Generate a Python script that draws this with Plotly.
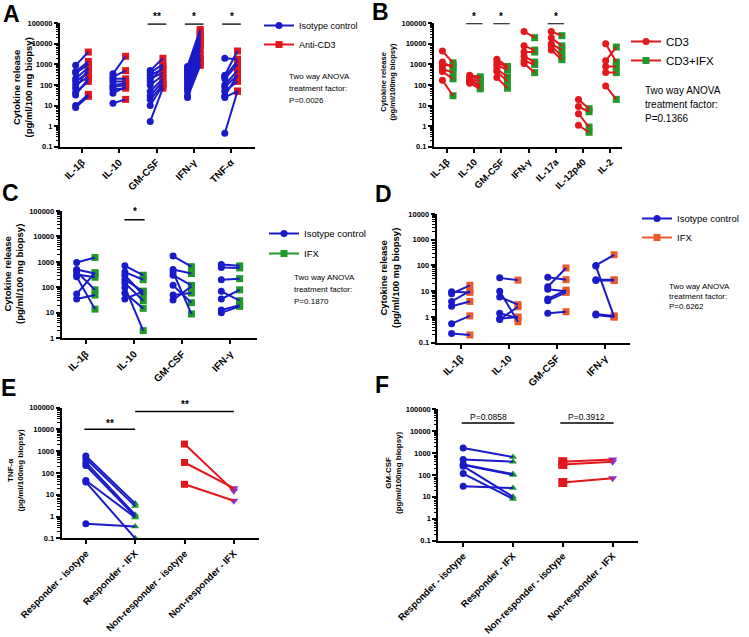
import plotly.graph_objects as go

W, H = 749, 637

# ---------------- DATA ----------------
A_categories = ['IL-1β', 'IL-10', 'GM-CSF', 'IFN-γ', 'TNF-α']
A_isotype = [
    [900, 450, 380, 200, 150, 100, 70, 45, 33, 10, 8],
    [350, 250, 200, 150, 100, 80, 60, 40, 13],
    [500, 400, 300, 200, 150, 100, 50, 30, 20, 10, 1.7],
    [800, 600, 500, 400, 300, 250, 200, 150, 100, 70, 50, 30, 25],
    [2000, 300, 250, 200, 100, 80, 50, 30, 25, 0.45],
]
A_antiCD3 = [
    [4000, 1400, 1000, 700, 400, 250, 600, 150, 200, 35, 28],
    [2500, 500, 200, 150, 120, 100, 70, 80, 20],
    [2000, 1000, 600, 400, 800, 300, 200, 150, 100, 100, 70],
    [50000, 40000, 30000, 20000, 15000, 10000, 8000, 5000, 3000, 2000, 1500, 1000, 900],
    [1800, 4500, 1500, 1000, 500, 300, 150, 300, 50, 50],
]
A_stars = {2: '**', 3: '*', 4: '*'}

B_categories = ['IL-1β', 'IL-10', 'GM-CSF', 'IFN-γ', 'IL-17a', 'IL-12p40', 'IL-2']
B_CD3 = [
    [4500, 1300, 900, 600, 450, 170],
    [300, 250, 200, 180, 150, 120],
    [1800, 1300, 900, 600, 450, 230],
    [40000, 8000, 4000, 2500, 1500, 1100],
    [40000, 20000, 10000, 8000, 5000],
    [20, 9, 4, 1.1],
    [10000, 1500, 800, 400, 90],
]
B_CD3_IFX = [
    [1200, 700, 900, 400, 200, 30],
    [250, 200, 150, 100, 80, 65],
    [800, 700, 550, 250, 150, 70],
    [20000, 5000, 4000, 1300, 1000, 400],
    [25000, 8000, 5000, 2500, 1700],
    [7, 5, 0.9, 0.5],
    [1300, 7000, 800, 400, 20],
]
B_stars = {1: '*', 2: '*', 4: '*'}

C_categories = ['IL-1β', 'IL-10', 'GM-CSF', 'IFN-γ']
C_isotype = [
    [950, 500, 420, 320, 260, 55, 35],
    [700, 400, 300, 200, 150, 100, 60, 35],
    [1700, 500, 400, 300, 120, 50, 32],
    [800, 600, 200, 70, 35, 13, 10],
]
C_IFX = [
    [1500, 350, 80, 250, 14, 380, 50],
    [300, 200, 50, 70, 30, 2, 15, 70],
    [650, 350, 9, 120, 25, 60, 110],
    [700, 580, 220, 30, 80, 20, 18],
]
C_stars = {1: '*'}

D_categories = ['IL-1β', 'IL-10', 'GM-CSF', 'IFN-γ']
D_isotype = [
    [9.5, 8, 4, 2.6, 0.55, 0.23],
    [33, 10, 6, 1.4, 0.8, 0.85],
    [35, 15, 12, 5, 4.3, 1.4],
    [100, 95, 28, 26, 1.3, 1.2],
]
D_IFX = [
    [9, 17, 10, 4, 1.1, 0.2],
    [27, 0.65, 3, 0.9, 2.5, 1.0],
    [28, 80, 10, 11, 9, 1.6],
    [260, 1.0, 28, 26, 1.1, 1.0],
]

EF_categories = ['Responder - isotype', 'Responder - IFX',
                 'Non-responder - isotype', 'Non-responder - IFX']
E_resp_isotype = [600, 450, 300, 220, 45, 38, 0.47]
E_resp_IFX = [4.0, 3.0, 1.2, 1.0, 0.9, 0.1, 0.35]
E_non_isotype = [2100, 300, 30]
E_non_IFX = [15, 20, 5.3]

F_resp_isotype = [1700, 500, 300, 280, 250, 115, 30]
F_resp_IFX = [650, 400, 110, 100, 10, 8, 25]
F_non_isotype = [400, 300, 45]
F_non_IFX = [500, 400, 70]

Y_tickvals = [0.1, 1, 10, 100, 1000, 10000, 100000]
Y_ticktext = ['0.1', '1', '10', '100', '1000', '10000', '100000']

# ---------------- STYLE ----------------
BLUE = '#1a1ac8'
RED = '#e3161b'
GREEN = '#1f9a2a'
ORANGE = '#ec5a2c'
PURPLE = '#8c2fd6'
FONT = 'Liberation Sans, Arial, sans-serif'
NARROW = 'Liberation Sans Narrow, Liberation Sans, Arial, sans-serif'


def px(x):
    return x / W


def py(y):
    return 1 - y / H


fig = go.Figure()
layout = {}
annotations = []


def add_axes(n, x0, x1, ytop, ybot, xr, yr, ticktext, tfsize=10):
    layout['xaxis%d' % n] = dict(
        domain=[px(x0), px(x1)], range=xr, anchor='y%d' % n, automargin=False,
        tickmode='array', tickvals=list(range(len(ticktext))), ticktext=ticktext,
        tickangle=-45, showline=True, linewidth=2, linecolor='black',
        ticks='outside', ticklen=4, tickwidth=2, tickcolor='black',
        showgrid=False, zeroline=False,
        tickfont=dict(family=FONT, size=tfsize, color='black', weight='bold'))
    layout['yaxis%d' % n] = dict(
        type='log', domain=[py(ybot), py(ytop)], range=yr, anchor='x%d' % n,
        automargin=False,
        tickmode='array', tickvals=Y_tickvals, ticktext=Y_ticktext,
        showline=True, linewidth=2, linecolor='black',
        ticks='outside', ticklen=4, tickwidth=2, tickcolor='black',
        showgrid=False, zeroline=False,
        minor=dict(ticks='outside', tickmode='linear', dtick='D1', ticklen=2.5,
                   tickwidth=1, tickcolor='black', showgrid=False),
        tickfont=dict(family=NARROW, size=7.5, color='black', weight='bold'))


def add_paired(n, iso, trt, offL, offR, lcol, m1, m2):
    xl, yl, x1, y1, x2, y2 = [], [], [], [], [], []
    for i, (a, b) in enumerate(zip(iso, trt)):
        for u, v in zip(a, b):
            xl += [i + offL, i + offR, None]
            yl += [u, v, None]
            x1.append(i + offL); y1.append(u)
            x2.append(i + offR); y2.append(v)
    xa, ya = 'x%d' % n, 'y%d' % n
    fig.add_trace(go.Scatter(x=x2, y=y2, mode='markers', marker=m2, xaxis=xa, yaxis=ya,
                             showlegend=False, cliponaxis=False, hoverinfo='skip'))
    fig.add_trace(go.Scatter(x=xl, y=yl, mode='lines', line=dict(color=lcol, width=2),
                             xaxis=xa, yaxis=ya, showlegend=False, cliponaxis=False,
                             hoverinfo='skip'))
    fig.add_trace(go.Scatter(x=x1, y=y1, mode='markers', marker=m1, xaxis=xa, yaxis=ya,
                             showlegend=False, cliponaxis=False, hoverinfo='skip'))


def legend_entry(n, leg, name, lcol, marker, group):
    fig.add_trace(go.Scatter(x=[None], y=[None], mode='lines+markers', name=name,
                             line=dict(color=lcol, width=2), marker=marker,
                             xaxis='x%d' % n, yaxis='y%d' % n, legend=leg,
                             legendgroup=group))


def sig_bar(n, xa, xb, yv, text, ytext, size=10, bold=True):
    fig.add_trace(go.Scatter(x=[xa, xb], y=[yv, yv], mode='lines',
                             line=dict(color='black', width=1.5),
                             xaxis='x%d' % n, yaxis='y%d' % n, showlegend=False,
                             cliponaxis=False, hoverinfo='skip'))
    annotations.append(dict(x=(xa + xb) / 2, y=py(ytext), xref='x%d' % n, yref='paper',
                            text=text, showarrow=False, xanchor='center', yanchor='middle',
                            font=dict(family=FONT, size=size, color='black',
                                      weight='bold' if bold else 'normal')))


def text(x, y, t, size, bold=False, anchor='left', angle=0):
    annotations.append(dict(x=px(x), y=py(y), xref='paper', yref='paper', text=t,
                            showarrow=False, xanchor=anchor, yanchor='middle',
                            textangle=angle,
                            font=dict(family=FONT, size=size, color='black',
                                      weight='bold' if bold else 'normal')))


circ = lambda c: dict(symbol='circle', size=7, color=c)
sq = lambda c: dict(symbol='square', size=7, color=c)

# ---------------- PANEL A ----------------
add_axes(1, 60, 255, 23.3, 146.7, [-0.59, 4.64], [-1, 5], A_categories)
add_paired(1, A_isotype, A_antiCD3, -0.17, 0.17, BLUE, circ(BLUE), sq(RED))
for i, s in A_stars.items():
    sig_bar(1, i - 0.24, i + 0.26, 92000, s, 17)
legend_entry(1, 'legend', 'Isotype control', BLUE, circ(BLUE), 'a')
legend_entry(1, 'legend', 'Anti-CD3', RED, sq(RED), 'a')

# ---------------- PANEL B ----------------
add_axes(2, 434, 622, 23.3, 146.7, [-0.48, 6.43], [-1, 5], B_categories, 9.5)
add_paired(2, B_CD3, B_CD3_IFX, -0.17, 0.22, RED, circ(RED), sq(GREEN))
for i, s in B_stars.items():
    sig_bar(2, i - 0.3, i + 0.3, 97000, s, 17)
legend_entry(2, 'legend2', 'CD3', RED, circ(RED), 'b')
legend_entry(2, 'legend2', 'CD3+IFX', RED, sq(GREEN), 'b')

# ---------------- PANEL C ----------------
add_axes(3, 61.7, 257, 211, 338.3, [-0.5, 3.55], [0, 5], C_categories)
add_paired(3, C_isotype, C_IFX, -0.19, 0.19, BLUE, circ(BLUE), sq(GREEN))
for i, s in C_stars.items():
    sig_bar(3, i - 0.2, i + 0.22, 45000, s, 211)
legend_entry(3, 'legend3', 'Isotype control', BLUE, circ(BLUE), 'c1')
legend_entry(3, 'legend3', 'IFX', GREEN, sq(GREEN), 'c2')

# ---------------- PANEL D ----------------
add_axes(4, 436.7, 630, 214, 342.7, [-0.5, 3.52], [-1, 4], D_categories)
add_paired(4, D_isotype, D_IFX, -0.19, 0.19, BLUE, circ(BLUE), sq(ORANGE))
legend_entry(4, 'legend4', 'Isotype control', BLUE, circ(BLUE), 'd')
legend_entry(4, 'legend4', 'IFX', ORANGE, sq(ORANGE), 'd')

# ---------------- PANEL E ----------------
add_axes(5, 61.7, 259, 407.5, 538.3, [-0.49, 3.51], [-1, 5], EF_categories, 9.5)
add_paired(5, [E_resp_isotype], [E_resp_IFX], 0, 1, BLUE, circ(BLUE),
           dict(symbol='triangle-up', size=7, color=GREEN))
add_paired(5, [[], [], E_non_isotype], [[], [], E_non_IFX], 0, 1, RED, sq(RED),
           dict(symbol='triangle-down', size=8, color=PURPLE))
sig_bar(5, -0.03, 1.0, 10000, '**', 423)
sig_bar(5, 1.0, 3.0, 65000, '**', 405)

# ---------------- PANEL F ----------------
add_axes(6, 438.3, 638, 409.1, 540.7, [-0.5, 3.51], [-1, 5], EF_categories, 9.5)
add_paired(6, [F_resp_isotype], [F_resp_IFX], 0, 1, BLUE, circ(BLUE),
           dict(symbol='triangle-up', size=7, color=GREEN))
add_paired(6, [[], [], F_non_isotype], [[], [], F_non_IFX], 0, 1, RED,
           dict(symbol='square', size=9, color=RED),
           dict(symbol='triangle-down', size=8, color=PURPLE))
sig_bar(6, -0.03, 1.03, 23000, 'P=0.0858', 417, 8.5, False)
sig_bar(6, 1.95, 3.02, 23000, 'P=0.3912', 417, 8.5, False)

# ---------------- TEXT ----------------
for letter, x, y in [('A', 11.5, 14.5), ('B', 380.5, 12.5), ('C', 10, 193.5),
                     ('D', 383, 194), ('E', 8.5, 388), ('F', 382, 385)]:
    text(x, y, letter, 23, True, 'center')

text(21.5, 88, 'Cytokine release<br>(pg/ml/100 mg biopsy)', 9.5, True, 'center', -90)
text(388.5, 82, 'Cytokine release<br>(pg/ml/100mg biopsy)', 7.5, True, 'center', -90)
text(14, 274, 'Cytokine release<br>(pg/ml/100 mg biopsy)', 9.5, True, 'center', -90)
text(389, 278, 'Cytokine release<br>(pg/ml/100 mg biopsy)', 9.5, True, 'center', -90)
text(15.5, 470, 'TNF-α<br>(pg/ml/100mg biopsy)', 8, True, 'center', -90)
text(393, 473, 'GM-CSF<br>(pg/ml/100mg biopsy)', 8, True, 'center', -90)

for (x, ys, lines, fs) in [
    (287, [76, 88, 100], ['Two way ANOVA', 'treatment factor:', 'P=0.0026'], 8),
    (643, [91, 104.5, 118], ['Two way ANOVA', 'treatment factor:', 'P=0.1366'], 10),
    (292, [277, 289, 301], ['Two way ANOVA', 'treatment factor:', 'P=0.1870'], 8),
    (667, [286, 296.5, 307], ['Two way ANOVA', 'treatment factor:', 'P=0.6262'], 8),
]:
    for yy, t in zip(ys, lines):
        text(x, yy, t, fs)


def legend_cfg(x, y, size, gap):
    return dict(x=px(x), y=py(y), xanchor='left', yanchor='top', bgcolor='rgba(0,0,0,0)',
                font=dict(family=FONT, size=size, color='black'), tracegroupgap=gap,
                itemclick=False, itemdoubleclick=False)


layout['legend'] = legend_cfg(259, 11, 9, 0)
layout['legend2'] = legend_cfg(626, 27, 11.5, 0)
layout['legend3'] = legend_cfg(264, 219, 9.5, 1)
layout['legend4'] = legend_cfg(637, 204, 9.5, 0)

fig.update_layout(template='none', width=W, height=H,
                  margin=dict(l=0, r=0, t=0, b=0, autoexpand=False),
                  paper_bgcolor='white', plot_bgcolor='white',
                  annotations=annotations, **layout)

fig.write_html('out.html', config={'displayModeBar': False},
               post_script="document.body.style.margin='0';"
                           "document.body.style.overflow='hidden';")
